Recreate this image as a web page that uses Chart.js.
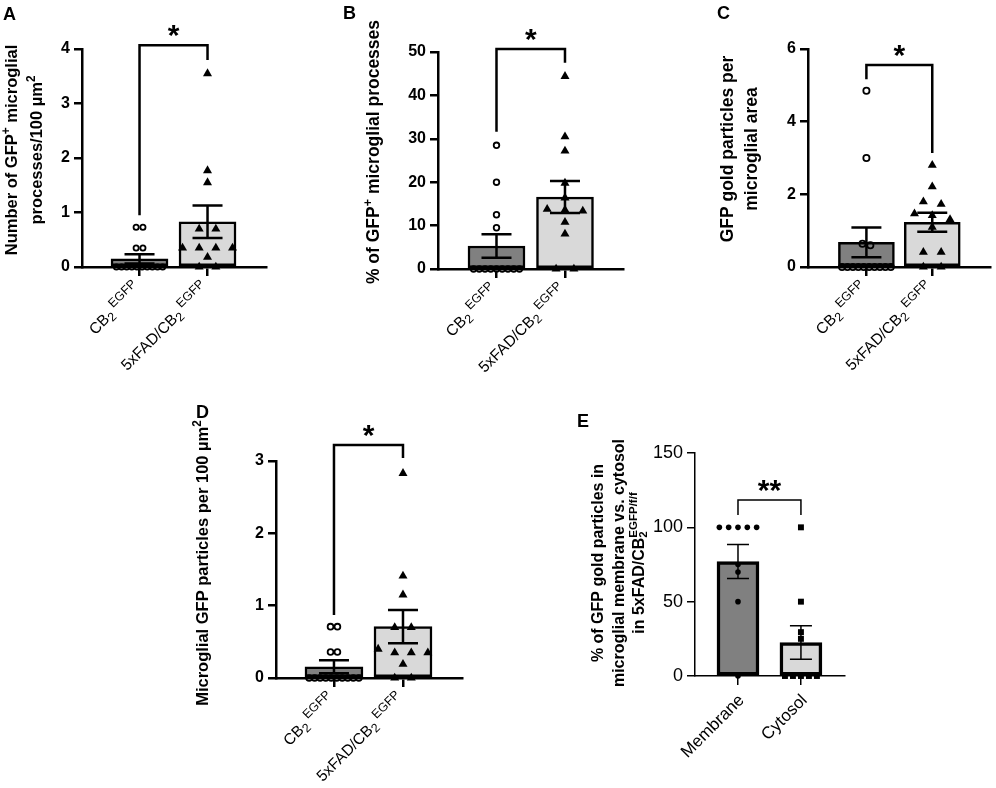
<!DOCTYPE html>
<html>
<head>
<meta charset="utf-8">
<title>GFP particles in microglia</title>
<script src="https://cdn.jsdelivr.net/npm/chart.js@4.4.1/dist/chart.umd.min.js"></script>
<style>
  body { margin: 0; background: #fff; }
  #fig { position: relative; width: 996px; height: 788px; }
  #fig canvas { position: absolute; left: 0; top: 0; }
</style>
</head>
<body>
<div id="fig">
  <canvas id="cA" width="996" height="788"></canvas>
  <canvas id="cB" width="996" height="788"></canvas>
  <canvas id="cC" width="996" height="788"></canvas>
  <canvas id="cD" width="996" height="788"></canvas>
  <canvas id="cE" width="996" height="788"></canvas>
</div>
<script>
var FONT = '"Liberation Sans", Arial, Helvetica, sans-serif';

// categories (^{..} superscript, _{..} subscript, ^^{..} superscript stacked on the subscript)
var genotypes = ['CB_{2}^{ EGFP}', '5xFAD/CB_{2}^{ EGFP}'];
var compartments = ['Membrane', 'Cytosol'];

// A - GFP+ processes / 100 um2
var ctrlA = [0, 0, 0, 0, 0, 0, 0, 0, 0, 0, 0.35, 0.35, 0.73, 0.73];
var fadA = [3.55, 1.77, 1.55, 0.7, 0.7, 0.35, 0.35, 0.35, 0.35, 0.18, 0, 0];
var meanA = [0.15, 0.83];
var semA = [0.085, 0.30];
var bracketA = [0.95, 4.07, 3.8]; // left leg end, top, right leg end

// B - % of GFP+ processes
var ctrlB = [0, 0, 0, 0, 0, 0, 0, 0, 0, 9.5, 12.5, 20, 28.5];
var fadB = [44.4, 30.5, 27.2, 19.8, 16.4, 13.8, 13.6, 13.4, 10.8, 8.1, 0, 0];
var meanB = [5.3, 16.6];
var semB = [2.7, 3.7];
var bracketB = [31.6, 50.7, 47.5];

// C - gold particles per microglial area
var ctrlC = [0, 0, 0, 0, 0, 0, 0, 0, 0, 0, 0.6, 0.64, 3.0, 4.85];
var fadC = [2.8, 2.21, 1.80, 1.73, 1.47, 1.42, 1.31, 1.10, 0.41, 0.41, 0, 0];
var meanC = [0.68, 1.23];
var semC = [0.41, 0.26];
var bracketC = [5.17, 5.56, 3.14];

// D - particles per 100 um2
var ctrlD = [0, 0, 0, 0, 0, 0, 0, 0, 0, 0, 0.36, 0.36, 0.71, 0.71];
var fadD = [2.83, 1.41, 1.15, 0.7, 0.7, 0.4, 0.35, 0.35, 0.35, 0.19, 0, 0];
var meanD = [0.155, 0.71];
var semD = [0.09, 0.23];
var bracketD = [0.87, 3.22, 3.04];

// E - membrane vs cytosol
var membraneE = [100, 100, 100, 100, 100, 75, 70, 50, 0];
var cytosolE = [100, 50, 29.5, 25, 0, 0, 0, 0, 0];
var meanE = [77, 22.5];
var semE = [11.4, 11.3];
var bracketE = [108.3, 118.4, 108.3];

/*******************************
 * rich text: sub / superscripts
 *******************************/
function parseRich(str) {
  var segs = [], re = /(\^\^|\^|_)\{([^}]*)\}/g, last = 0, m;
  while ((m = re.exec(str))) {
    if (m.index > last) segs.push({t: str.slice(last, m.index), k: ''});
    segs.push({t: m[2], k: m[1]});
    last = re.lastIndex;
  }
  if (last < str.length) segs.push({t: str.slice(last), k: ''});
  return segs;
}

function drawRich(ctx, str, x, y, angle, size, weight, align, small) {
  var items = [], pos = 0, prevStart = 0;
  small = small || 0.72;
  parseRich(str).forEach(function(s) {
    var fs = s.k ? size * small : size;
    var font = weight + ' ' + fs + 'px ' + FONT;
    ctx.font = font;
    var w = ctx.measureText(s.t).width;
    var start = s.k === '^^' ? prevStart : pos;
    var dy = s.k === '_' ? size * 0.2 : (s.k ? -size * 0.42 : 0);
    items.push({t: s.t, x: start, dy: dy, font: font});
    prevStart = start;
    pos = Math.max(pos, start + w);
  });
  var off = align === 'right' ? -pos : (align === 'center' ? -pos / 2 : 0);
  ctx.save();
  ctx.translate(x, y);
  ctx.rotate(angle);
  ctx.fillStyle = '#000';
  ctx.textAlign = 'left';
  ctx.textBaseline = 'alphabetic';
  items.forEach(function(it) {
    ctx.font = it.font;
    ctx.fillText(it.t, off + it.x, it.dy);
  });
  ctx.restore();
}

/*******************************
 * spread points of similar value side by side
 *******************************/
function swarm(values, group, step, span, tol) {
  var rows = [];
  values.slice().sort(function(a, b) { return b - a; }).forEach(function(v) {
    var row = rows[rows.length - 1];
    if (row && row[0] - v <= tol) row.push(v); else rows.push([v]);
  });
  var pts = [];
  rows.forEach(function(row) {
    var n = row.length;
    var s = n > 1 ? Math.min(step, span / (n - 1)) : 0;
    row.forEach(function(v, k) { pts.push({x: group + (k - (n - 1) / 2) * s, y: v}); });
  });
  return pts;
}

function openCircle(r, step, span) {
  return {pointStyle: 'circle', radius: r, borderWidth: 1.8, fill: 'rgba(0,0,0,0)', step: step, span: span};
}
function solid(style, r, step, span) {
  return {pointStyle: style, radius: r, borderWidth: 0, fill: '#000', step: step, span: span};
}

var heavy = {axisW: 2.5, errW: 2.5, capW: 30, barBorder: 2.5, tickFont: 'bold', tickSize: 16,
             labelSize: 15.5, labelDx: 2, labelDy: 22};

var panels = [
  {canvas: 'cA', letter: ['A', 3, 20], frame: [82, 49, 266, 267], xRange: [-0.846, 1.86],
   yMax: 4, yStep: 1, barW: 57, tol: 0.12, style: heavy, cats: genotypes,
   groups: [ctrlA, fadA], means: meanA, sems: semA, bracket: bracketA, star: '*',
   markers: [openCircle(2.6, 0.1, 0.68), solid('triangle', 5.2, 0.245, 0.8)],
   title: {size: 16.5, lines: ['Number of GFP^{+} microglial', 'processes/100 \u00b5m^{2}'], xs: [17, 41.5], cy: 150}},
  {canvas: 'cB', letter: ['B', 343, 19], frame: [438, 52, 623, 269], xRange: [-0.854, 1.847],
   yMax: 50, yStep: 10, barW: 57, tol: 1.5, style: heavy, cats: genotypes,
   groups: [ctrlB, fadB], means: meanB, sems: semB, bracket: bracketB, star: '*',
   markers: [openCircle(2.8, 0.1, 0.67), solid('triangle', 5.2, 0.26, 0.8)],
   title: {size: 17.5, lines: ['% of GFP^{+} microglial processes'], xs: [379], cy: 152}},
  {canvas: 'cC', letter: ['C', 717, 19], frame: [808, 49, 992, 267], xRange: [-0.887, 1.88],
   yMax: 6, yStep: 2, barW: 56, tol: 0.2, style: heavy, cats: genotypes,
   groups: [ctrlC, fadC], means: meanC, sems: semC, bracket: bracketC, star: '*',
   markers: [openCircle(3.1, 0.12, 0.74), solid('triangle', 5.2, 0.27, 0.8)],
   title: {size: 17.5, lines: ['GFP gold particles per', 'microglial area'], xs: [733, 757], cy: 149}},
  {canvas: 'cD', letter: ['D', 196, 418], frame: [276, 461, 462, 678], xRange: [-0.84, 1.855],
   yMax: 3, yStep: 1, barW: 58, tol: 0.12, style: heavy, cats: genotypes,
   groups: [ctrlD, fadD], means: meanD, sems: semD, bracket: bracketD, star: '*',
   markers: [openCircle(2.9, 0.1, 0.72), solid('triangle', 5.2, 0.24, 0.8)],
   title: {size: 16.5, lines: ['Microglial GFP particles per 100 \u00b5m^{2}'], xs: [208], cy: 563}},
  {canvas: 'cE', letter: ['E', 577, 427], frame: [695, 453, 845, 676], xRange: [-0.683, 1.70],
   yMax: 150, yStep: 50, barW: 42, tol: 3, cats: compartments,
   style: {axisW: 1.5, errW: 1.5, capW: 22, barBorder: 3.5, tickFont: 'normal', tickSize: 18,
           labelSize: 17, labelDx: 7, labelDy: 25},
   groups: [membraneE, cytosolE], means: meanE, sems: semE, bracket: bracketE, star: '**',
   markers: [solid('circle', 2.8, 0.148, 0.8), solid('rect', 4.2, 0.127, 0.8)],
   title: {size: 16, lines: ['% of GFP gold particles in', 'microglial membrane vs. cytosol', 'in 5xFAD/CB_{2}^^{EGFP/f/f}'],
           xs: [603, 624, 644], cy: 563}}
];

/*******************************
 * error bars, bracket, star and all labels
 *******************************/
function figPlugin(p) {
  var st = p.style;
  return {
    id: 'fig' + p.canvas,
    afterDatasetDraw: function(chart, args) {
      if (args.index !== 0) return;
      var x = chart.scales.x, y = chart.scales.y, c = chart.ctx;
      c.save();
      c.strokeStyle = '#000';
      c.lineWidth = st.errW;
      p.means.forEach(function(m, i) {
        var px = x.getPixelForValue(i);
        var hi = y.getPixelForValue(m + p.sems[i]);
        var lo = y.getPixelForValue(m - p.sems[i]);
        c.beginPath();
        c.moveTo(px, hi); c.lineTo(px, lo);
        c.moveTo(px - st.capW / 2, hi); c.lineTo(px + st.capW / 2, hi);
        c.moveTo(px - st.capW / 2, lo); c.lineTo(px + st.capW / 2, lo);
        c.stroke();
      });
      c.restore();
    },
    afterDraw: function(chart) {
      var x = chart.scales.x, y = chart.scales.y, c = chart.ctx, area = chart.chartArea;
      var x0 = x.getPixelForValue(0), x1 = x.getPixelForValue(1);
      var top = y.getPixelForValue(p.bracket[1]);
      c.save();
      c.strokeStyle = '#000';
      c.lineWidth = st.axisW;
      c.beginPath();
      c.moveTo(x0, y.getPixelForValue(p.bracket[0]));
      c.lineTo(x0, top);
      c.lineTo(x1, top);
      c.lineTo(x1, y.getPixelForValue(p.bracket[2]));
      c.stroke();

      c.fillStyle = '#000';
      c.font = 'bold 30px ' + FONT;
      c.textAlign = 'center';
      c.textBaseline = 'alphabetic';
      var mt = c.measureText(p.star);
      var cy = top - 14;
      c.fillText(p.star, (x0 + x1) / 2, cy + (mt.actualBoundingBoxAscent - mt.actualBoundingBoxDescent) / 2);

      c.textAlign = 'left';
      c.font = 'bold 18px ' + FONT;
      c.fillText(p.letter[0], p.letter[1], p.letter[2]);
      c.restore();

      p.title.lines.forEach(function(line, i) {
        drawRich(c, line, p.title.xs[i], p.title.cy, -Math.PI / 2, p.title.size, 'bold', 'center');
      });
      p.cats.forEach(function(cat, i) {
        drawRich(c, cat, x.getPixelForValue(i) + st.labelDx, area.bottom + st.labelDy,
                 -Math.PI / 4, st.labelSize, 'normal', 'right', 0.8);
      });
    }
  };
}

function makePanel(p) {
  var st = p.style, f = p.frame, yW = 44, xH = 12;
  var datasets = [{
    type: 'bar',
    order: 2,
    data: p.means.map(function(m, i) { return {x: i, y: m}; }),
    backgroundColor: ['#808080', '#d9d9d9'],
    borderColor: '#000',
    borderWidth: st.barBorder,
    borderSkipped: false,
    barThickness: p.barW,
    clip: false
  }];
  p.groups.forEach(function(vals, g) {
    var mk = p.markers[g];
    datasets.push({
      type: 'scatter',
      order: 1,
      data: swarm(vals, g, mk.step, mk.span, p.tol),
      pointStyle: mk.pointStyle,
      pointRadius: mk.radius,
      pointBorderWidth: mk.borderWidth,
      pointBackgroundColor: mk.fill,
      pointBorderColor: '#000',
      clip: false
    });
  });

  new Chart(document.getElementById(p.canvas), {
    type: 'scatter',
    data: {datasets: datasets},
    options: {
      responsive: false,
      animation: false,
      events: [],
      layout: {padding: {left: f[0] - yW, top: f[1], right: 996 - f[2], bottom: 788 - f[3] - xH}},
      plugins: {legend: {display: false}, tooltip: {enabled: false}},
      scales: {
        x: {
          type: 'linear',
          min: p.xRange[0],
          max: p.xRange[1],
          offset: false,
          afterBuildTicks: function(s) { s.ticks = [{value: 0}, {value: 1}]; },
          afterFit: function(s) { s.height = xH; },
          ticks: {display: false},
          grid: {drawOnChartArea: false, offset: false, tickLength: 9, color: '#000', lineWidth: st.axisW},
          border: {display: true, color: '#000', width: st.axisW}
        },
        y: {
          min: 0,
          max: p.yMax,
          afterFit: function(s) { s.width = yW; },
          ticks: {stepSize: p.yStep, color: '#000', padding: 4,
                  font: {family: FONT, size: st.tickSize, weight: st.tickFont}},
          grid: {drawOnChartArea: false, tickLength: 8, color: '#000', lineWidth: st.axisW},
          border: {display: true, color: '#000', width: st.axisW}
        }
      }
    },
    plugins: [figPlugin(p)]
  });
}

panels.forEach(makePanel);
</script>
</body>
</html>
